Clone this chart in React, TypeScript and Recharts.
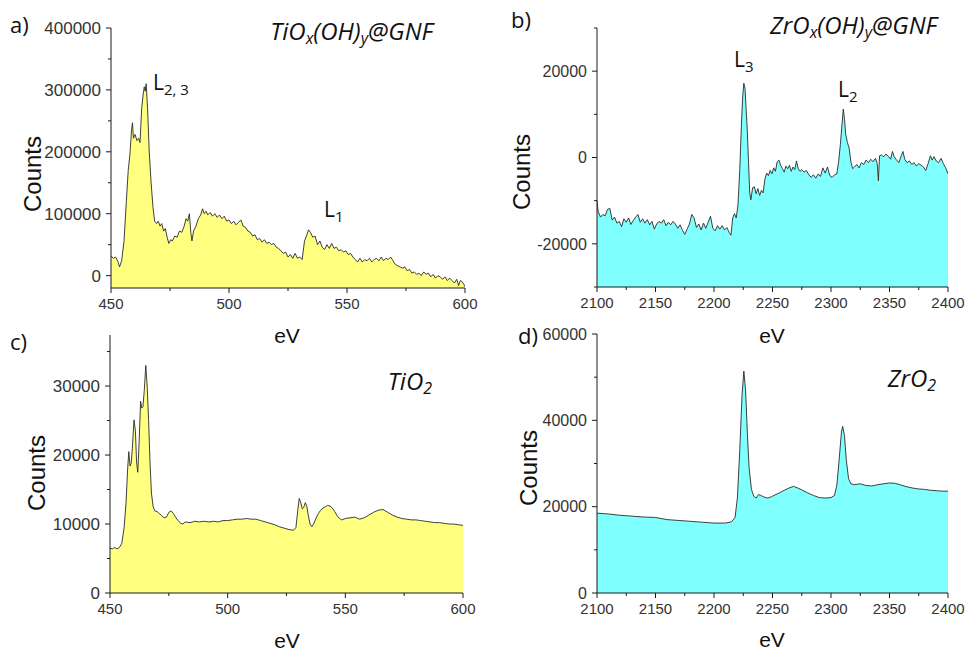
import React from 'react';
import { AreaChart, Area, XAxis, YAxis } from 'recharts';

// ---------- Panel a: TiOx(OH)y@GNF ----------
const tiGnfEnergy = [450, 451, 452, 453, 453.6, 454.5, 455.5, 456.5, 457.3, 458, 458.7, 459.1, 459.5, 460.2, 461, 461.7, 462.3, 463, 463.6, 464.1, 464.5, 464.9, 465.5, 466.2, 467, 467.8, 468.5, 469.3, 470, 470.8, 471.5, 472.3, 473, 473.8, 474.5, 475.3, 476, 477, 478, 479, 480, 481, 481.8, 482.5, 483.2, 483.8, 484.3, 485, 486, 487, 488, 488.8, 489.5, 490.3, 491, 492, 493, 494, 495, 496, 497, 498, 499, 500, 501, 502, 503, 504, 505, 506, 507, 508, 509, 510, 511, 512, 513, 514, 515, 516, 517, 518, 519, 520, 521, 522, 523, 524, 525, 526, 527, 528, 529, 530, 531, 532, 533, 533.7, 534.5, 535.5, 536.5, 537.5, 538.5, 539.5, 540.5, 541.5, 542.5, 543.5, 544.5, 545.5, 546.5, 547.5, 548.5, 549.5, 550.5, 551.5, 552.5, 553.5, 554.5, 555.5, 556.5, 557.5, 558.5, 559.5, 560.5, 561.5, 562.5, 563.5, 564.5, 565.5, 566.5, 567.5, 568.5, 569.5, 570.5, 571.5, 572.5, 573.5, 574.5, 575.5, 576.5, 577.5, 578.5, 579.5, 580.5, 581.5, 582.5, 583.5, 584.5, 585.5, 586.5, 587.5, 588.5, 589.5, 590.5, 591.5, 592.5, 593.5, 594.5, 595.5, 596.5, 597.3, 598, 598.8, 599.5, 600];
const tiGnfCounts = [32000, 28000, 30000, 22000, 14000, 24000, 55000, 120000, 170000, 195000, 235000, 247000, 222000, 228000, 218000, 222000, 215000, 270000, 292000, 305000, 298000, 310000, 270000, 200000, 150000, 110000, 88000, 84000, 88000, 80000, 84000, 72000, 76000, 62000, 52000, 58000, 56000, 64000, 62000, 72000, 70000, 80000, 92000, 88000, 100000, 70000, 56000, 72000, 80000, 92000, 98000, 108000, 100000, 104000, 98000, 102000, 96000, 100000, 94000, 98000, 92000, 96000, 88000, 90000, 84000, 88000, 82000, 86000, 90000, 80000, 78000, 72000, 70000, 64000, 66000, 58000, 60000, 54000, 58000, 52000, 54000, 50000, 52000, 46000, 44000, 40000, 36000, 38000, 30000, 34000, 28000, 36000, 28000, 30000, 26000, 56000, 66000, 74000, 70000, 62000, 64000, 50000, 56000, 46000, 42000, 50000, 44000, 52000, 44000, 46000, 40000, 42000, 38000, 40000, 34000, 36000, 30000, 26000, 22000, 28000, 22000, 26000, 24000, 28000, 22000, 26000, 28000, 24000, 30000, 24000, 28000, 26000, 30000, 24000, 18000, 16000, 14000, 12000, 14000, 8000, 10000, 4000, 6000, 2000, 4000, 0, 6000, 2000, 4000, -2000, 2000, -4000, 0, -2000, -6000, -2000, -8000, -4000, -8000, -12000, -6000, -16000, -8000, -10000, -14000, -18000];

// ---------- Panel b: ZrOx(OH)y@GNF ----------
const zrGnfEnergy = [2100, 2101, 2103, 2105, 2107, 2109, 2111, 2113, 2115, 2117, 2119, 2121, 2123, 2125, 2127, 2129, 2131, 2133, 2135, 2137, 2139, 2141, 2143, 2145, 2147, 2149, 2151, 2153, 2155, 2157, 2159, 2161, 2163, 2165, 2167, 2169, 2171, 2173, 2175, 2177, 2179, 2181, 2183, 2185, 2187, 2189, 2191, 2193, 2195, 2197, 2199, 2201, 2203, 2205, 2207, 2209, 2211, 2213, 2214.5, 2216, 2217.5, 2219, 2220.5, 2222, 2223.5, 2224.5, 2225.5, 2226.5, 2227.5, 2228.5, 2229.5, 2230.5, 2231.5, 2233, 2234.5, 2236, 2237.5, 2239, 2240.5, 2242, 2243.5, 2245, 2246.5, 2248, 2249.5, 2251, 2252.5, 2254, 2255.5, 2257, 2258.5, 2260, 2261.5, 2263, 2264.5, 2266, 2267.5, 2269, 2270.5, 2272, 2273.5, 2275, 2277, 2279, 2281, 2283, 2285, 2287, 2289, 2291, 2293, 2295, 2297, 2299, 2301, 2303, 2305, 2306.5, 2308, 2309.5, 2310.5, 2311.5, 2312.5, 2314, 2315.5, 2317, 2318.5, 2320, 2322, 2324, 2326, 2328, 2330, 2332, 2334, 2336, 2338, 2339.5, 2340.5, 2341.5, 2343, 2345, 2347, 2349, 2351, 2352.5, 2354, 2356, 2358, 2360, 2361.5, 2363, 2365, 2367, 2369, 2371, 2373, 2375, 2377, 2379, 2381, 2383, 2385, 2386.5, 2388, 2390, 2392, 2394, 2396, 2398, 2400];
const zrGnfCounts = [-10000, -12500, -13800, -13200, -13500, -12000, -11800, -14500, -13800, -15200, -14800, -16000, -14200, -15000, -14000, -15500, -14600, -13800, -13200, -15000, -14200, -15200, -14400, -15600, -14800, -16600, -15400, -14800, -15200, -14400, -15800, -15000, -15600, -14800, -15400, -16400, -15600, -16800, -17800, -16600, -15400, -13200, -14000, -16200, -15400, -16800, -15200, -16400, -15000, -13600, -16400, -17000, -15800, -16600, -15800, -16800, -16200, -17400, -18000, -14000, -13000, -14000, -11000, -3000, 8000, 14000, 17200, 16000, 11000, 6000, -1000, -8000, -9800, -7000, -6800, -8400, -7200, -8800, -7600, -8200, -5000, -3600, -4200, -3000, -3800, -2400, -3200, -1000, -600, -1800, -2600, -3400, -2000, -2600, -1800, -3200, -2200, -2800, -800, -2600, -3200, -2800, -3400, -3000, -4000, -4600, -4000, -4800, -3800, -4400, -2400, -3600, -2200, -4200, -4600, -4000, -3800, -1000, 3000, 8000, 11200, 9000, 5500, 3500, 2200, -1000, -2600, -2200, -1600, -2400, -1200, -1600, -600, -1200, -400, -1000, -200, -1400, -5400, 400, 600, 200, 800, 300, -400, 1400, 200, -600, -1200, 400, 1400, -400, -1200, -800, -1600, -1200, -2000, -1400, -1800, -2200, -3000, -1400, 400, -600, 200, -800, -1200, -200, -1400, -2400, -3800];

// ---------- Panel c: TiO2 ----------
const tiO2Energy = [450, 451, 452, 453, 454, 455, 456, 456.8, 457.5, 458, 458.5, 459, 459.5, 460.2, 460.8, 461.3, 461.8, 462.4, 463, 463.5, 464, 464.6, 465.2, 465.8, 466.4, 467, 467.6, 468.3, 469, 470, 471, 472, 473, 474, 475, 476, 477, 478, 479, 480, 481, 482, 484, 486, 488, 490, 492, 494, 496, 498, 500, 502, 504, 506, 508, 510, 512, 514, 516, 518, 520, 522, 524, 526, 528, 529, 529.8, 530.4, 531, 531.7, 532.3, 533, 533.6, 534.3, 535, 535.8, 536.5, 537.5, 538.5, 539.5, 540.5, 541.5, 542.5, 543.5, 544.5, 545.5, 546.5, 547.5, 548.5, 550, 552, 554, 556, 558, 560, 562, 564, 566, 568, 570, 572, 574, 576, 578, 580, 582, 584, 586, 588, 590, 592, 594, 596, 598, 600];
const tiO2Counts = [6500, 6400, 6600, 6400, 6600, 7200, 9500, 13000, 18000, 20500, 18400, 18800, 21000, 25100, 23500, 19000, 17500, 22000, 27800, 26800, 27000, 29500, 33000, 30000, 25000, 19000, 14500, 12600, 11900, 11800, 11500, 11200, 10900, 11000, 11700, 11900, 11500, 10900, 10500, 10100, 10000, 10300, 10200, 10400, 10300, 10400, 10300, 10400, 10300, 10500, 10500, 10600, 10700, 10700, 10800, 10700, 10700, 10500, 10300, 10100, 9900, 9600, 9400, 9200, 9100, 9500, 12000, 13700, 13200, 12200, 12400, 13100, 12600, 11200, 10000, 9600, 10000, 10800, 11500, 12000, 12300, 12500, 12700, 12600, 12300, 11800, 11200, 10800, 10600, 10800, 10900, 11000, 10700, 10900, 11300, 11700, 12000, 12100, 11700, 11300, 11000, 10800, 10700, 10600, 10600, 10500, 10400, 10300, 10200, 10200, 10100, 10000, 10000, 9900, 9800];

// ---------- Panel d: ZrO2 ----------
const zrO2Energy = [2100, 2110, 2120, 2130, 2140, 2150, 2160, 2170, 2180, 2190, 2200, 2210, 2215, 2218, 2220, 2222, 2224, 2225.5, 2227, 2228.5, 2230, 2232, 2234, 2236, 2238, 2240, 2243, 2246, 2249, 2252, 2256, 2260, 2264, 2268, 2271, 2275, 2280, 2285, 2290, 2295, 2300, 2303, 2305, 2307, 2309, 2310, 2311.5, 2313, 2315, 2317, 2320, 2325, 2330, 2335, 2340, 2345, 2350, 2355, 2360, 2365, 2370, 2375, 2380, 2385, 2390, 2395, 2400];
const zrO2Counts = [18500, 18300, 18000, 17800, 17600, 17500, 17000, 16800, 16600, 16400, 16200, 16200, 16500, 17500, 22000, 33000, 46000, 51400, 47000, 37000, 29000, 24000, 22400, 22000, 22800, 22600, 22200, 22000, 22300, 22700, 23200, 23800, 24300, 24700, 24400, 23900, 23200, 22600, 22100, 22000, 22100, 22600, 25000, 31000, 37500, 38600, 36500, 31000, 26500, 25300, 25100, 25300, 24900, 24800, 25100, 25300, 25500, 25400, 25000, 24600, 24300, 24100, 24000, 23800, 23700, 23600, 23600];

// ---------- Axis ticks ----------
const tiXTicks = [450, 475, 500, 525, 550, 575, 600];
const tiXMajor = [450, 500, 550, 600];
const zrXTicks = [2100, 2125, 2150, 2175, 2200, 2225, 2250, 2275, 2300, 2325, 2350, 2375, 2400];
const zrXMajor = [2100, 2150, 2200, 2250, 2300, 2350, 2400];
const aYTicks = [0, 50000, 100000, 150000, 200000, 250000, 300000, 350000, 400000];
const aYMajor = [0, 100000, 200000, 300000, 400000];
const bYTicks = [-30000, -20000, -10000, 0, 10000, 20000, 30000];
const bYMajor = [-20000, 0, 20000];
const cYTicks = [0, 5000, 10000, 15000, 20000, 25000, 30000, 35000];
const cYMajor = [0, 10000, 20000, 30000];
const dYTicks = [0, 10000, 20000, 30000, 40000, 50000, 60000];
const dYMajor = [0, 20000, 40000, 60000];

const toRows = (xs: number[], ys: number[]) => xs.map((x, i) => ({ x, y: ys[i] }));

const TICK_MAJOR = 5;
const TICK_MINOR = 3;
const TICK_MARGIN = 5;
const AXIS_COLOR = '#1a1a1a';
const TICK_FONT = '"Liberation Sans", Arial, sans-serif';
const LABEL_FONT = '"Liberation Sans", Arial, sans-serif';
const NOTE_FONT = '"Open Sans", Lato, sans-serif';

const makeYTick = (majors: number[], fontSize: number) => (props: any) => {
  const { x, y, payload } = props;
  const axisX = x + TICK_MAJOR + TICK_MARGIN;
  const isMajor = majors.includes(payload.value);
  const len = isMajor ? TICK_MAJOR : TICK_MINOR;
  return (
    <g>
      <line x1={axisX - len} x2={axisX} y1={y} y2={y} stroke={AXIS_COLOR} strokeWidth={1} />
      {isMajor && (
        <text x={x} y={y} dy="0.36em" textAnchor="end" fontSize={fontSize} fontFamily={TICK_FONT} fill="#333">
          {String(payload.value)}
        </text>
      )}
    </g>
  );
};

const makeXTick = (majors: number[], fontSize: number) => (props: any) => {
  const { x, y, payload } = props;
  const axisY = y - TICK_MAJOR - TICK_MARGIN;
  const isMajor = majors.includes(payload.value);
  const len = isMajor ? TICK_MAJOR : TICK_MINOR;
  return (
    <g>
      <line x1={x} x2={x} y1={axisY} y2={axisY + len} stroke={AXIS_COLOR} strokeWidth={1} />
      {isMajor && (
        <text x={x} y={y} dy="0.71em" textAnchor="middle" fontSize={fontSize} fontFamily={TICK_FONT} fill="#333">
          {String(payload.value)}
        </text>
      )}
    </g>
  );
};

type PanelProps = {
  left: number;
  top: number;
  margin: { top: number; right: number; bottom: number; left: number };
  yWidth: number;
  xs: number[];
  ys: number[];
  xDomain: [number, number];
  yDomain: [number, number];
  xTicks: number[];
  xMajor: number[];
  yTicks: number[];
  yMajor: number[];
  yFont: number;
  fill: string;
};

function Panel(p: PanelProps) {
  const data = toRows(p.xs, p.ys);
  return (
    <div style={{ position: 'absolute', left: p.left, top: p.top }}>
      <AreaChart width={484} height={325} data={data} margin={p.margin}>
        <XAxis
          dataKey="x"
          type="number"
          domain={p.xDomain}
          allowDataOverflow
          ticks={p.xTicks}
          interval={0}
          height={30}
          stroke={AXIS_COLOR}
          tickLine={false}
          tickSize={TICK_MAJOR}
          tickMargin={TICK_MARGIN}
          tick={makeXTick(p.xMajor, 15)}
        />
        <YAxis
          type="number"
          domain={p.yDomain}
          allowDataOverflow
          ticks={p.yTicks}
          interval={0}
          width={p.yWidth}
          stroke={AXIS_COLOR}
          tickLine={false}
          tickSize={TICK_MAJOR}
          tickMargin={TICK_MARGIN}
          tick={makeYTick(p.yMajor, p.yFont)}
        />
        <Area
          type="linear"
          dataKey="y"
          stroke="#2a2a2a"
          strokeWidth={0.9}
          fill={p.fill}
          fillOpacity={1}
          baseValue="dataMin"
          dot={false}
          activeDot={false}
          isAnimationActive={false}
        />
      </AreaChart>
    </div>
  );
}

const YELLOW = '#FFFF80';
const CYAN = '#80FFFF';

export default function App() {
  const counts = (cx: number, cy: number) => (
    <text
      x={cx}
      y={cy}
      transform={`rotate(-90 ${cx} ${cy})`}
      textAnchor="middle"
      dominantBaseline="central"
      fontSize={24}
      fontFamily={LABEL_FONT}
      fill="#111"
    >
      Counts
    </text>
  );
  const ev = (cx: number, cy: number) => (
    <text x={cx} y={cy} textAnchor="middle" dominantBaseline="central" fontSize={21} fontFamily={LABEL_FONT} fill="#111">
      eV
    </text>
  );
  return (
    <div style={{ position: 'absolute', left: 0, top: 0, width: 968, height: 650, background: '#fff', overflow: 'hidden' }}>
      <Panel
        left={0}
        top={0}
        margin={{ top: 28, right: 19, bottom: 7, left: 0 }}
        yWidth={111}
        xs={tiGnfEnergy}
        ys={tiGnfCounts}
        xDomain={[450, 600]}
        yDomain={[-20000, 400000]}
        xTicks={tiXTicks}
        xMajor={tiXMajor}
        yTicks={aYTicks}
        yMajor={aYMajor}
        yFont={17}
        fill={YELLOW}
      />
      <Panel
        left={484}
        top={0}
        margin={{ top: 28, right: 20, bottom: 8, left: 0 }}
        yWidth={113}
        xs={zrGnfEnergy}
        ys={zrGnfCounts}
        xDomain={[2100, 2400]}
        yDomain={[-30000, 30000]}
        xTicks={zrXTicks}
        xMajor={zrXMajor}
        yTicks={bYTicks}
        yMajor={bYMajor}
        yFont={16}
        fill={CYAN}
      />
      <Panel
        left={0}
        top={325}
        margin={{ top: 10, right: 21, bottom: 27, left: 0 }}
        yWidth={110}
        xs={tiO2Energy}
        ys={tiO2Counts}
        xDomain={[450, 600]}
        yDomain={[0, 37400]}
        xTicks={tiXTicks}
        xMajor={tiXMajor}
        yTicks={cYTicks}
        yMajor={cYMajor}
        yFont={17}
        fill={YELLOW}
      />
      <Panel
        left={484}
        top={325}
        margin={{ top: 9, right: 20, bottom: 27, left: 0 }}
        yWidth={113}
        xs={zrO2Energy}
        ys={zrO2Counts}
        xDomain={[2100, 2400]}
        yDomain={[0, 60000]}
        xTicks={zrXTicks}
        xMajor={zrXMajor}
        yTicks={dYTicks}
        yMajor={dYMajor}
        yFont={16}
        fill={CYAN}
      />
      <svg
        width={968}
        height={650}
        style={{ position: 'absolute', left: 0, top: 0, pointerEvents: 'none' }}
      >
        {/* panel letters */}
        <g fontFamily={NOTE_FONT} fontSize={22} fill="#111">
          <text x={10} y={33}>a)</text>
          <text x={511} y={28}>b)</text>
          <text x={10} y={350}>c)</text>
          <text x={518} y={344}>d)</text>
        </g>
        {/* axis titles */}
        {counts(32, 174)}
        {counts(521, 172)}
        {counts(36, 473)}
        {counts(528, 468)}
        {ev(287, 335)}
        {ev(772, 335)}
        {ev(287, 640)}
        {ev(772, 639)}
        {/* sample titles */}
        <g fontFamily={NOTE_FONT} fontStyle="italic" fontSize={24} fill="#111">
          <text x={433} y={40} textAnchor="end">
            TiO<tspan fontSize={16} dy={4}>x</tspan>
            <tspan dy={-4}>(OH)</tspan>
            <tspan fontSize={16} dy={4}>y</tspan>
            <tspan dy={-4}>@GNF</tspan>
          </text>
          <text x={937} y={34} textAnchor="end">
            ZrO<tspan fontSize={16} dy={4}>x</tspan>
            <tspan dy={-4}>(OH)</tspan>
            <tspan fontSize={16} dy={4}>y</tspan>
            <tspan dy={-4}>@GNF</tspan>
          </text>
          <text x={432} y={390} textAnchor="end">
            TiO<tspan fontSize={16} dy={4}>2</tspan>
          </text>
          <text x={936} y={387} textAnchor="end">
            ZrO<tspan fontSize={16} dy={4}>2</tspan>
          </text>
        </g>
        {/* edge labels */}
        <g fontFamily={NOTE_FONT} fontSize={21} fill="#111">
          <text x={153} y={90}>
            L<tspan fontSize={15} dy={5}>2, 3</tspan>
          </text>
          <text x={324} y={217}>
            L<tspan fontSize={15} dy={5}>1</tspan>
          </text>
          <text x={734} y={67}>
            L<tspan fontSize={15} dy={5}>3</tspan>
          </text>
          <text x={838} y={97}>
            L<tspan fontSize={15} dy={5}>2</tspan>
          </text>
        </g>
      </svg>
    </div>
  );
}
